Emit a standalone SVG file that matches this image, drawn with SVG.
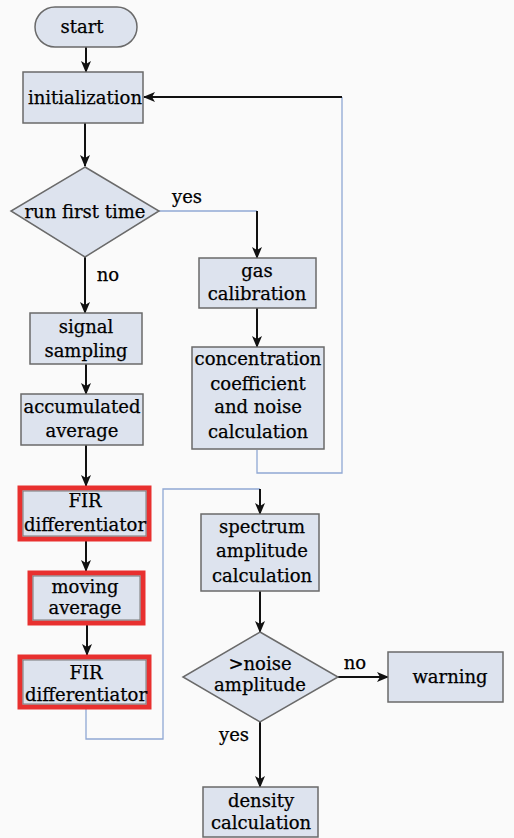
<svg xmlns="http://www.w3.org/2000/svg" width="514" height="838" viewBox="0 0 514 838">
<defs>
<marker id="ah" markerWidth="12" markerHeight="10" refX="11" refY="5" orient="auto" markerUnits="userSpaceOnUse">
<path d="M0,0 L12,5 L0,10 L3,5 z" fill="#111"/>
</marker>
</defs>
<style>
.bx{fill:#dde3ee;stroke:#6a6a6a;stroke-width:1.5}
.rd{fill:none;stroke:#e8302f;stroke-width:5}
.t{font-family:"DejaVu Serif","Liberation Serif",serif;font-size:18px;fill:#000;stroke:#000;stroke-width:0.25;text-anchor:middle}
.a{stroke:#111;stroke-width:2;fill:none;marker-end:url(#ah)}
.b{stroke:#90a8d4;stroke-width:1.3;fill:none}
</style>
<rect width="514" height="838" fill="#fafafa"/>
<g id="connectors">
<line class="a" x1="86" y1="47" x2="86" y2="72"/>
<line class="a" x1="85" y1="123" x2="85" y2="166"/>
<polyline class="b" points="257,450 257,473 342,473 342,97"/>
<line class="a" x1="342" y1="97" x2="144" y2="97"/>
<polyline class="b" points="159,211 257,211"/>
<line class="a" x1="257" y1="211" x2="257" y2="258"/>
<line class="a" x1="257" y1="308" x2="257" y2="347"/>
<line class="a" x1="85" y1="257" x2="85" y2="313"/>
<line class="a" x1="86" y1="364" x2="86" y2="394"/>
<line class="a" x1="86" y1="445" x2="86" y2="486"/>
<line class="a" x1="86" y1="541" x2="86" y2="571"/>
<line class="a" x1="87" y1="625" x2="87" y2="655"/>
<polyline class="b" points="86,709 86,739 163,739 163,489 260,489"/>
<line class="a" x1="260" y1="489" x2="260" y2="514"/>
<line class="a" x1="260" y1="591" x2="260" y2="632"/>
<line class="a" x1="338" y1="677" x2="388" y2="677"/>
<line class="a" x1="260" y1="722" x2="260" y2="787"/>
<text class="t" x="187" y="203">yes</text>
<text class="t" x="108" y="281">no</text>
<text class="t" x="355" y="669">no</text>
<text class="t" x="234" y="741">yes</text>
</g>
<g id="start">
<rect class="bx" x="35" y="7" width="102" height="40" rx="20"/>
<text class="t" x="82" y="33">start</text>
</g>
<g id="initialization">
<rect class="bx" x="23" y="72" width="120" height="51"/>
<text class="t" x="85" y="104">initialization</text>
</g>
<g id="run-first-time">
<polygon class="bx" points="85,167 159,211 85,257 11,211"/>
<text class="t" x="85" y="218">run first time</text>
</g>
<g id="gas-calibration">
<rect class="bx" x="199" y="258" width="117" height="50"/>
<text class="t" x="257" y="277">gas</text>
<text class="t" x="257" y="300">calibration</text>
</g>
<g id="concentration">
<rect class="bx" x="192" y="347" width="132" height="102"/>
<text class="t" x="258" y="365">concentration</text>
<text class="t" x="258" y="390">coefficient</text>
<text class="t" x="258" y="413">and noise</text>
<text class="t" x="258" y="438">calculation</text>
</g>
<g id="signal-sampling">
<rect class="bx" x="30" y="313" width="112" height="51"/>
<text class="t" x="86" y="333">signal</text>
<text class="t" x="86" y="357">sampling</text>
</g>
<g id="accumulated-average">
<rect class="bx" x="21" y="394" width="122" height="51"/>
<text class="t" x="82" y="413">accumulated</text>
<text class="t" x="82" y="437">average</text>
</g>
<g id="fir1">
<rect class="bx" x="20" y="488" width="129" height="51"/>
<rect class="rd" x="20" y="488" width="129" height="51"/>
<rect x="23" y="491" width="123" height="45" fill="none" stroke="#777" stroke-width="1"/>
<text class="t" x="85" y="507">FIR</text>
<text class="t" x="85" y="531">differentiator</text>
</g>
<g id="moving-average">
<rect class="bx" x="30" y="573" width="113" height="50"/>
<rect class="rd" x="30" y="573" width="113" height="50"/>
<rect x="33" y="576" width="107" height="44" fill="none" stroke="#777" stroke-width="1"/>
<text class="t" x="85" y="593">moving</text>
<text class="t" x="85" y="614">average</text>
</g>
<g id="fir2">
<rect class="bx" x="20" y="657" width="129" height="50"/>
<rect class="rd" x="20" y="657" width="129" height="50"/>
<rect x="23" y="660" width="123" height="44" fill="none" stroke="#777" stroke-width="1"/>
<text class="t" x="86" y="679">FIR</text>
<text class="t" x="86" y="701">differentiator</text>
</g>
<g id="spectrum">
<rect class="bx" x="201" y="514" width="118" height="77"/>
<text class="t" x="262" y="533">spectrum</text>
<text class="t" x="262" y="557">amplitude</text>
<text class="t" x="262" y="582">calculation</text>
</g>
<g id="noise-decision">
<polygon class="bx" points="260,632 338,677 260,722 183,677"/>
<text class="t" x="260" y="670">&gt;noise</text>
<text class="t" x="260" y="691">amplitude</text>
</g>
<g id="warning">
<rect class="bx" x="388" y="652" width="115" height="50"/>
<text class="t" x="450" y="683">warning</text>
</g>
<g id="density">
<rect class="bx" x="203" y="787" width="115" height="50"/>
<text class="t" x="261" y="807">density</text>
<text class="t" x="261" y="829">calculation</text>
</g>
</svg>
